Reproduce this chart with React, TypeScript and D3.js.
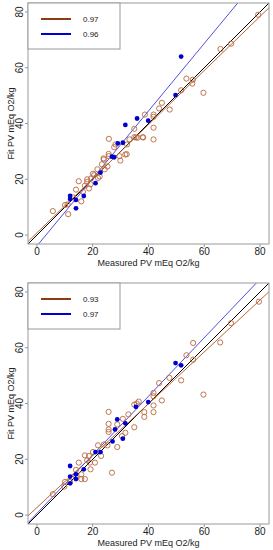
import * as React from "react";
import { scaleLinear, line as d3Line } from "d3";

// top panel: open (brown) points
const topOpenX = [79.3, 69.6, 65.8, 53.6, 55.9, 55.7, 59.7, 51.7, 44.8, 47.6, 43.8, 38.7, 41.8, 41.8, 34.9, 41.8, 37.9, 34.9, 25.8, 41.8,
  33.2, 35.5, 38.1, 32.2, 29.6, 25.7, 25.8, 24.0, 29.9, 23.3, 25.3, 24.3, 21.7, 20.1, 21.9, 19.4, 18.0, 18.0, 19.2, 18.7,
  17.2, 15.0, 14.0, 15.9, 11.0, 10.1, 11.2, 5.7, 32.3, 28.2, 23.9, 36.1, 31.7, 27.7, 20.5, 16.5, 22.5, 13.0];
const topOpenY = [79.0, 68.6, 66.7, 56.1, 55.7, 54.3, 51.0, 51.9, 47.4, 45.0, 45.4, 43.2, 43.2, 42.4, 38.1, 38.5, 35.1, 35.1, 34.5, 34.3,
  34.3, 35.0, 35.0, 29.0, 28.3, 29.1, 28.3, 27.1, 26.7, 25.4, 24.6, 23.6, 23.6, 22.0, 20.5, 20.3, 20.0, 19.1, 18.2, 16.7,
  17.7, 19.3, 16.3, 12.1, 11.0, 10.8, 7.5, 8.6, 32.5, 32.5, 27.5, 34.9, 28.9, 31.5, 21.5, 15.5, 21.0, 13.5];
// top panel: filled (blue) points
const topBlueX = [51.7, 49.7, 31.7, 35.9, 39.9, 29.0, 30.8, 26.9, 27.7, 21.0, 22.8, 11.9, 11.9, 14.0, 16.8, 14.0];
const topBlueY = [64.0, 50.2, 39.5, 41.8, 41.0, 32.9, 33.1, 28.1, 27.9, 18.6, 22.4, 14.0, 12.9, 12.6, 14.0, 9.6];

// bottom panel
const botOpenX = [79.6, 69.6, 65.7, 56.0, 53.6, 56.0, 59.7, 51.7, 47.5, 43.8, 44.8, 41.8, 41.8, 41.8, 36.5, 34.9,
  41.8, 38.5, 38.5, 34.9, 35.8, 32.8, 30.8, 31.7, 28.8, 25.7, 25.7, 25.7, 25.7, 28.8, 26.9, 24.0, 25.3, 21.9, 23.0,
  20.1, 18.7, 19.0, 20.8, 18.0, 19.2, 17.2, 15.0, 14.0, 15.9, 15.9, 17.2, 14.0, 10.1, 9.8, 11.9, 5.7, 30.5];
const botOpenY = [76.5, 68.8, 61.9, 61.7, 57.3, 55.7, 43.2, 48.3, 49.2, 47.3, 41.1, 43.8, 42.6, 39.3, 40.7, 39.6,
  36.9, 36.9, 35.2, 31.5, 40.0, 36.1, 34.5, 29.5, 32.5, 37.0, 32.7, 30.7, 29.8, 24.4, 15.2, 25.3, 25.0, 25.0, 21.2,
  22.6, 21.2, 18.8, 18.8, 19.6, 16.4, 21.4, 18.8, 16.2, 14.6, 12.9, 12.9, 13.5, 11.9, 10.2, 11.9, 7.5, 28.3];
const botBlueX = [49.7, 51.7, 39.9, 35.5, 31.7, 28.8, 28.0, 30.8, 27.1, 22.8, 21.0, 16.8, 14.0, 14.0, 11.9, 11.9, 11.9];
const botBlueY = [54.5, 53.7, 40.5, 38.8, 32.9, 34.3, 30.7, 27.4, 26.4, 22.6, 22.6, 16.4, 14.6, 12.9, 17.6, 13.8, 11.4];

// fitted lines [slope, intercept]
const topBrownFit = [0.97, 0.8];
const topBlueFit = [1.21, -3.9];
const botBrownFit = [0.93, 2.7];
const botBlueFit = [1.05, 0.6];

const topLegend = ["0.97", "0.96"];
const botLegend = ["0.93", "0.97"];
const ticks = [0, 20, 40, 60, 80];
const domain = [-3.2, 83.2];

const BROWN = "#8b3a12";
const SIENNA = "#b8683e";
const BLUE = "#0000cc";
const FONT = "Liberation Sans, Arial, sans-serif";

interface PanelProps {
  top: number;
  id: string;
  openX: number[];
  openY: number[];
  blueX: number[];
  blueY: number[];
  brownFit: number[];
  blueFit: number[];
  legend: string[];
}

const Panel = ({ top, id, openX, openY, blueX, blueY, brownFit, blueFit, legend }: PanelProps) => {
  const left = 28;
  const right = 269;
  const bottom = top + 241;
  const x = scaleLinear().domain(domain).range([left, right]);
  const y = scaleLinear().domain(domain).range([bottom, top]);
  const fitLine = (f: number[]) =>
    d3Line<number>()
      .x(d => x(d))
      .y(d => y(f[0] * d + f[1]))([-10, 100]);

  return (
    <g>
      <defs>
        <clipPath id={id}>
          <rect x={left} y={top} width={right - left} height={bottom - top} />
        </clipPath>
      </defs>
      <g clipPath={`url(#${id})`}>
        <path d={fitLine([1, 0]) || ""} stroke="#000" strokeWidth={1} fill="none" />
        <path d={fitLine(brownFit) || ""} stroke={SIENNA} strokeWidth={1} fill="none" />
        <path d={fitLine(blueFit) || ""} stroke="#5050e0" strokeWidth={1} fill="none" />
        {openX.map((v, i) => (
          <circle key={"o" + i} cx={x(v)} cy={y(openY[i])} r={2.6} fill="none" stroke={SIENNA} strokeWidth={0.9} />
        ))}
        {blueX.map((v, i) => (
          <circle key={"b" + i} cx={x(v)} cy={y(blueY[i])} r={2.4} fill={BLUE} />
        ))}
      </g>
      <rect x={left} y={top} width={right - left} height={bottom - top} fill="none" stroke="#999" strokeWidth={1} />
      {ticks.map(t => (
        <g key={"x" + t}>
          <line x1={x(t)} x2={x(t)} y1={bottom} y2={bottom + 3} stroke="#999" />
          <text x={x(t)} y={bottom + 11} fontSize={10} textAnchor="middle" fontFamily={FONT} fill="#222">{t}</text>
        </g>
      ))}
      {ticks.map(t => (
        <g key={"y" + t}>
          <line x1={left - 3} x2={left} y1={y(t)} y2={y(t)} stroke="#999" />
          <text transform={`translate(${left - 5},${y(t)}) rotate(-90)`} fontSize={10} textAnchor="middle" fontFamily={FONT} fill="#222">{t}</text>
        </g>
      ))}
      <text x={(left + right) / 2} y={bottom + 22} fontSize={9} textAnchor="middle" fontFamily={FONT} fill="#222">
        Measured PV mEq O2/kg
      </text>
      <text transform={`translate(14,${(top + bottom) / 2}) rotate(-90)`} fontSize={9} textAnchor="middle" fontFamily={FONT} fill="#222">
        Fit PV mEq O2/kg
      </text>
      <rect x={left} y={top} width={92} height={46} fill="#fff" stroke="#999" strokeWidth={1} />
      {legend.map((s, i) => (
        <g key={"l" + i}>
          <line x1={41} x2={71} y1={top + 16 + i * 15} y2={top + 16 + i * 15} stroke={i === 0 ? BROWN : BLUE} strokeWidth={2} />
          <text x={83} y={top + 19 + i * 15} fontSize={8} fontFamily={FONT} fill="#222">{s}</text>
        </g>
      ))}
    </g>
  );
};

const App = () => (
  <div style={{ position: "absolute", left: 0, top: 0 }}>
    <svg width={273} height={550} style={{ display: "block", background: "#fff" }}>
      <Panel top={3} id="c1" openX={topOpenX} openY={topOpenY} blueX={topBlueX} blueY={topBlueY}
        brownFit={topBrownFit} blueFit={topBlueFit} legend={topLegend} />
      <Panel top={283} id="c2" openX={botOpenX} openY={botOpenY} blueX={botBlueX} blueY={botBlueY}
        brownFit={botBrownFit} blueFit={botBlueFit} legend={botLegend} />
    </svg>
  </div>
);

export default App;
